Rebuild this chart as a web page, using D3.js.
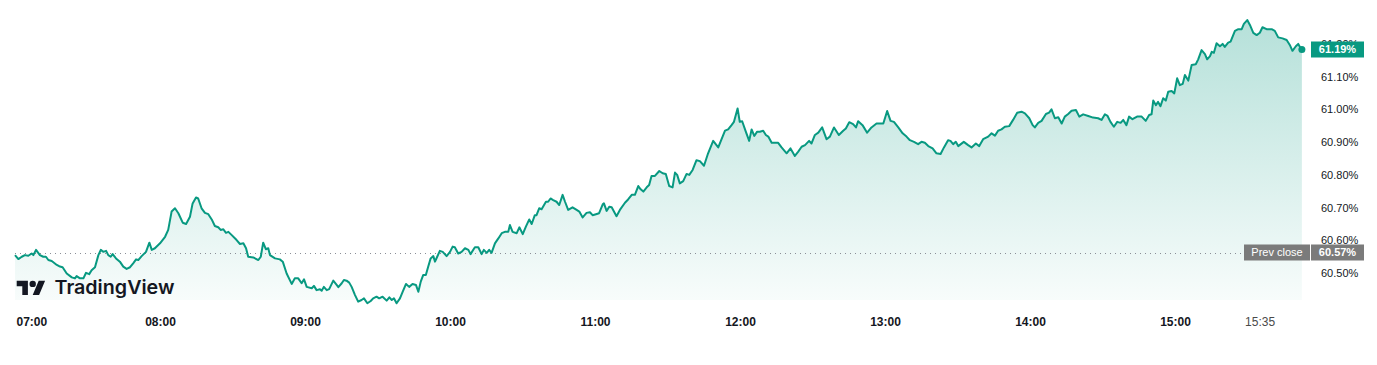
<!DOCTYPE html>
<html>
<head>
<meta charset="utf-8">
<script src="https://cdn.jsdelivr.net/npm/d3@7"></script>
<style>
  html, body { margin: 0; padding: 0; background: #fff; }
  svg { display: block; }
</style>
</head>
<body>
<svg id="chart" width="1377" height="365"></svg>
<script>
// minutes since 07:00 and the yield (%) at that moment
const minutes = [
  0, 1.4, 2.8, 4.1, 5.5, 6.9, 7.6, 8.7, 10.3, 11.7, 12.8, 13.8, 15.2, 17.3, 18.6, 19.7, 21.4, 23.5, 24.8, 25.5,
  26.9, 28.3, 29.4, 30.7, 31.7, 33.1, 34.5, 35.5, 36.5, 37.7, 38.6, 39.6, 40.4, 41.8, 43.4, 44.8, 46.2, 47.6, 48.9, 50.1,
  51.0, 52.4, 54.2, 55.6, 56.6, 57.9, 60.0, 62.1, 63.4, 64.8, 66.2, 67.6, 69.4, 70.8, 72.4, 73.5, 74.9, 75.8, 77.2, 78.6,
  80.0, 81.4, 82.7, 84.1, 85.1, 86.2, 87.3, 88.3, 89.7, 91.7, 93.1, 94.5, 95.6, 96.5, 98.6, 100.7, 101.7, 102.7, 103.8, 104.8,
  105.5, 107.6, 109.6, 110.8, 112.4, 114.5, 115.8, 117.2, 118.6, 119.6, 120.7, 122.8, 123.7, 124.8, 126.2, 126.9, 127.8, 129.0, 130.0, 131.7,
  133.1, 133.8, 135.2, 136.1, 137.2, 138.3, 139.3, 140.7, 142.0, 143.4, 144.4, 145.8, 147.2, 148.2, 149.6, 150.7, 152.1, 153.8, 154.9, 155.9,
  156.8, 157.9, 159.3, 160.4, 161.8, 163.1, 164.5, 165.9, 166.9, 167.9, 168.9, 170.0, 171.0, 172.0, 173.1, 173.8, 174.7, 175.8, 177.0, 178.6,
  180.0, 181.1, 182.0, 183.4, 184.8, 186.2, 187.6, 188.5, 190.3, 191.7, 193.1, 194.0, 195.2, 196.2, 197.2, 198.6, 200.0, 201.4, 202.7, 204.1,
  204.8, 205.9, 207.6, 208.7, 210.1, 211.4, 212.8, 213.8, 215.1, 215.8, 216.9, 217.9, 219.7, 220.6, 221.6, 222.7, 224.1, 225.2, 226.6, 227.6,
  228.9, 230.7, 232.4, 233.5, 234.9, 236.5, 237.9, 239.0, 240.4, 241.7, 243.2, 243.7, 244.8, 245.9, 246.9, 248.9, 250.3, 252.4, 253.7, 255.2,
  256.5, 257.9, 258.9, 260.0, 261.4, 262.4, 263.4, 264.8, 266.6, 268.0, 269.3, 270.7, 272.1, 273.1, 274.0, 275.1, 276.5, 277.9, 279.0, 280.4,
  282.0, 283.4, 285.1, 286.8, 288.9, 291.0, 293.8, 295.1, 296.5, 297.5, 299.0, 299.9, 300.9, 302.4, 303.8, 304.8, 305.9, 307.1, 308.2, 309.6,
  310.7, 311.7, 313.1, 314.4, 315.8, 317.2, 319.3, 320.9, 322.7, 324.1, 325.5, 326.9, 328.6, 329.6, 331.0, 332.4, 334.0, 335.8, 337.2, 338.9,
  340.9, 342.7, 343.8, 345.2, 346.8, 348.0, 348.9, 350.7, 352.6, 354.4, 356.5, 357.9, 359.3, 360.9, 362.3, 363.7, 365.5, 367.3, 368.9, 370.3,
  372.0, 373.7, 375.1, 376.5, 377.9, 379.7, 381.3, 383.0, 384.4, 386.1, 387.1, 388.2, 389.3, 390.3, 392.6, 394.4, 395.8, 397.6, 399.0, 400.6,
  402.7, 404.1, 405.5, 406.8, 408.2, 409.6, 411.4, 413.0, 414.7, 416.5, 417.9, 419.7, 421.1, 422.0, 423.4, 424.8, 426.6, 427.9, 428.9, 430.3,
  431.7, 433.1, 434.4, 435.8, 437.2, 439.0, 440.4, 442.0, 444.1, 446.1, 448.2, 449.6, 451.0, 452.1, 453.3, 454.7, 456.1, 457.5, 458.6, 459.9,
  461.0, 462.4, 464.3, 466.2, 467.9, 469.3, 470.3, 471.0, 472.1, 473.0, 474.0, 475.1, 476.2, 477.2, 478.6, 479.7, 480.9, 482.0, 483.2, 484.1,
  485.5, 486.9, 488.6, 489.6, 491.0, 492.4, 493.3, 494.5, 495.2, 496.1, 497.2, 498.6, 499.7, 500.6, 502.0, 503.0, 504.8, 506.2, 507.6, 508.5,
  509.9, 511.0, 512.4, 513.8, 515.1, 516.2, 517.9, 520.0, 521.3, 522.7, 524.5, 526.2, 527.5, 528.6, 530.0, 531.0, 532.0, 532.5
]

const values = [
  60.562, 60.550, 60.557, 60.562, 60.560, 60.567, 60.562, 60.578, 60.562, 60.557, 60.557, 60.547, 60.544, 60.532, 60.527, 60.525, 60.506, 60.494, 60.491, 60.498,
  60.491, 60.491, 60.508, 60.504, 60.516, 60.525, 60.562, 60.578, 60.572, 60.575, 60.562, 60.557, 60.565, 60.552, 60.542, 60.527, 60.520, 60.525, 60.537, 60.549,
  60.547, 60.559, 60.572, 60.600, 60.578, 60.583, 60.598, 60.618, 60.639, 60.695, 60.705, 60.690, 60.661, 60.657, 60.679, 60.720, 60.738, 60.735, 60.705, 60.691,
  60.687, 60.671, 60.651, 60.647, 60.639, 60.641, 60.630, 60.633, 60.623, 60.608, 60.596, 60.598, 60.583, 60.557, 60.555, 60.547, 60.557, 60.600, 60.580, 60.583,
  60.562, 60.552, 60.549, 60.542, 60.506, 60.474, 60.491, 60.491, 60.476, 60.488, 60.465, 60.461, 60.468, 60.455, 60.458, 60.453, 60.465, 60.455, 60.458, 60.484,
  60.471, 60.464, 60.476, 60.486, 60.484, 60.478, 60.465, 60.440, 60.420, 60.425, 60.430, 60.415, 60.422, 60.430, 60.435, 60.430, 60.435, 60.423, 60.433, 60.425,
  60.430, 60.415, 60.430, 60.450, 60.474, 60.465, 60.474, 60.471, 60.450, 60.481, 60.501, 60.501, 60.527, 60.552, 60.559, 60.542, 60.557, 60.575, 60.572, 60.559,
  60.572, 60.588, 60.586, 60.567, 60.572, 60.583, 60.578, 60.565, 60.586, 60.586, 60.565, 60.578, 60.569, 60.578, 60.569, 60.598, 60.613, 60.629, 60.633, 60.633,
  60.654, 60.633, 60.629, 60.647, 60.626, 60.649, 60.671, 60.657, 60.684, 60.684, 60.705, 60.702, 60.725, 60.725, 60.735, 60.730, 60.725, 60.715, 60.746, 60.725,
  60.700, 60.708, 60.700, 60.695, 60.677, 60.691, 60.693, 60.684, 60.687, 60.690, 60.717, 60.720, 60.697, 60.710, 60.708, 60.681, 60.700, 60.722, 60.732, 60.746,
  60.746, 60.773, 60.763, 60.756, 60.769, 60.776, 60.804, 60.804, 60.819, 60.812, 60.810, 60.773, 60.769, 60.814, 60.807, 60.781, 60.788, 60.810, 60.807, 60.822,
  60.852, 60.849, 60.835, 60.873, 60.911, 60.891, 60.942, 60.946, 60.959, 60.969, 61.010, 60.969, 60.971, 60.939, 60.911, 60.946, 60.926, 60.939, 60.939, 60.942,
  60.929, 60.924, 60.905, 60.905, 60.905, 60.891, 60.873, 60.888, 60.865, 60.878, 60.893, 60.898, 60.911, 60.903, 60.929, 60.936, 60.952, 60.916, 60.924, 60.952,
  60.929, 60.942, 60.949, 60.968, 60.962, 60.952, 60.971, 60.959, 60.936, 60.952, 60.964, 60.964, 60.964, 61.002, 60.972, 60.969, 60.952, 60.934, 60.924, 60.913,
  60.908, 60.901, 60.908, 60.905, 60.895, 60.888, 60.873, 60.871, 60.891, 60.913, 60.911, 60.901, 60.908, 60.895, 60.908, 60.898, 60.891, 60.903, 60.895, 60.916,
  60.924, 60.934, 60.927, 60.942, 60.946, 60.954, 60.956, 60.975, 60.997, 61.000, 60.995, 60.980, 60.959, 60.952, 60.966, 60.972, 60.993, 60.997, 61.007, 60.980,
  60.983, 60.964, 60.985, 60.993, 61.003, 61.005, 60.985, 60.992, 60.987, 60.982, 60.980, 60.975, 60.992, 60.987, 60.969, 60.954, 60.969, 60.966, 60.975, 60.959,
  60.985, 60.977, 60.985, 60.985, 60.972, 60.990, 60.992, 61.034, 61.020, 61.030, 61.017, 61.041, 61.034, 61.061, 61.063, 61.056, 61.102, 61.081, 61.085, 61.112,
  61.095, 61.143, 61.145, 61.160, 61.188, 61.176, 61.160, 61.170, 61.183, 61.180, 61.209, 61.200, 61.207, 61.198, 61.211, 61.214, 61.247, 61.252, 61.252, 61.268,
  61.280, 61.265, 61.241, 61.234, 61.241, 61.258, 61.252, 61.252, 61.247, 61.227, 61.224, 61.219, 61.204, 61.186, 61.200, 61.207, 61.194, 61.190
]

const prevClose = 60.57
const lastValue = 61.19
const yTicks = [61.2, 61.1, 61.0, 60.9, 60.8, 60.7, 60.6, 60.5]
const xTickLabels = ['07:00', '08:00', '09:00', '10:00', '11:00', '12:00', '13:00', '14:00', '15:00', '15:35']

const green = '#089981'
const greyBox = '#7b7b7b'
const plotBottom = 300

const svg = d3.select('#chart')
const data = minutes.map((m, i) => ({ m, v: values[i] }))

const x = d3.scaleLinear().domain([0, 480]).range([15, 1175])
const y = d3.scaleLinear().domain([prevClose, lastValue]).range([252.5, 49.5])

const defs = svg.append('defs')
const grad = defs.append('linearGradient')
  .attr('id', 'areaFill')
  .attr('gradientUnits', 'userSpaceOnUse')
  .attr('x1', 0).attr('x2', 0)
  .attr('y1', 18).attr('y2', plotBottom)
grad.append('stop').attr('offset', 0).attr('stop-color', green).attr('stop-opacity', 0.3)
grad.append('stop').attr('offset', 1).attr('stop-color', green).attr('stop-opacity', 0.03)

// area + line
const area = d3.area().x(d => x(d.m)).y0(plotBottom).y1(d => y(d.v))
const line = d3.line().x(d => x(d.m)).y(d => y(d.v))

svg.append('path').datum(data).attr('d', area).attr('fill', 'url(#areaFill)')

// prev close dotted line
svg.append('line')
  .attr('x1', x(0)).attr('x2', 1243)
  .attr('y1', Math.round(y(prevClose)) + 0.5).attr('y2', Math.round(y(prevClose)) + 0.5)
  .attr('stroke', '#8a8e97')
  .attr('stroke-width', 1)
  .attr('stroke-dasharray', '1,4')

svg.append('path').datum(data)
  .attr('d', line)
  .attr('fill', 'none')
  .attr('stroke', green)
  .attr('stroke-width', 2)
  .attr('stroke-linejoin', 'round')

const last = data[data.length - 1]
svg.append('circle').attr('cx', x(last.m)).attr('cy', y(last.v)).attr('r', 3.5).attr('fill', green)

// right price axis
const yAxis = svg.append('g')
  .attr('transform', 'translate(1321,-2.3)')
  .call(d3.axisRight(y).tickValues(yTicks).tickSize(0).tickPadding(0).tickFormat(d => d.toFixed(2) + '%'))
yAxis.select('.domain').remove()
yAxis.selectAll('text')
  .attr('font-family', '"Liberation Sans", Arial, sans-serif')
  .attr('font-size', 11)
  .attr('fill', '#131722')

// current value badge
const badgeFont = '"Liberation Sans", Arial, sans-serif'
svg.append('rect').attr('x', 1311).attr('y', y(lastValue) - 8).attr('width', 53).attr('height', 16).attr('fill', green)
svg.append('text')
  .attr('x', 1337.5).attr('y', y(lastValue)).attr('dy', '0.35em')
  .attr('text-anchor', 'middle')
  .attr('font-family', badgeFont).attr('font-size', 11).attr('font-weight', 'bold')
  .attr('fill', '#fff')
  .text(lastValue.toFixed(2) + '%')

// prev close badge
const pcY = y(prevClose)
svg.append('rect').attr('x', 1244).attr('y', pcY - 8).attr('width', 66).attr('height', 16).attr('fill', greyBox)
svg.append('rect').attr('x', 1311).attr('y', pcY - 8).attr('width', 53).attr('height', 16).attr('fill', greyBox)
svg.append('text')
  .attr('x', 1277).attr('y', pcY).attr('dy', '0.35em')
  .attr('text-anchor', 'middle')
  .attr('font-family', badgeFont).attr('font-size', 11)
  .attr('fill', '#fff')
  .text('Prev close')
svg.append('text')
  .attr('x', 1337.5).attr('y', pcY).attr('dy', '0.35em')
  .attr('text-anchor', 'middle')
  .attr('font-family', badgeFont).attr('font-size', 11).attr('font-weight', 'bold')
  .attr('fill', '#fff')
  .text(prevClose.toFixed(2) + '%')

// time axis
const toMin = s => (+s.slice(0, 2) - 7) * 60 + (+s.slice(3))
const xAxis = svg.append('g')
  .attr('transform', 'translate(0,312)')
  .call(d3.axisBottom(x).tickValues(xTickLabels.map(toMin)).tickSize(0).tickPadding(0)
    .tickFormat((d, i) => xTickLabels[i]))
xAxis.select('.domain').remove()
xAxis.selectAll('text')
  .attr('y', 10).attr('dy', '0.35em')
  .attr('font-family', '"Liberation Sans", Arial, sans-serif')
  .attr('font-size', 12)
  .attr('font-weight', (d, i) => i === xTickLabels.length - 1 ? 'normal' : 'bold')
  .attr('fill', (d, i) => i === xTickLabels.length - 1 ? '#4a4a4a' : '#131722')
  .attr('text-anchor', (d, i) => i === 0 ? 'start' : 'middle')
  .attr('x', (d, i) => i === 0 ? 1 : 0)

// TradingView watermark
const logo = svg.append('g').attr('transform', 'translate(16.7,277.5) scale(0.8)').attr('fill', '#131722')
logo.append('path').attr('d', 'M14 22H7V11H0V4h14v18zM28 22h-8l7.5-18h8L28 22z')
logo.append('circle').attr('cx', 20).attr('cy', 8).attr('r', 4)
svg.append('text')
  .attr('x', 54.5).attr('y', 294.3)
  .attr('font-family', 'Inter, sans-serif')
  .attr('font-size', 19).attr('font-weight', 600)
  .attr('textLength', 120).attr('lengthAdjust', 'spacingAndGlyphs')
  .attr('fill', '#131722')
  .text('TradingView')
</script>
</body>
</html>
